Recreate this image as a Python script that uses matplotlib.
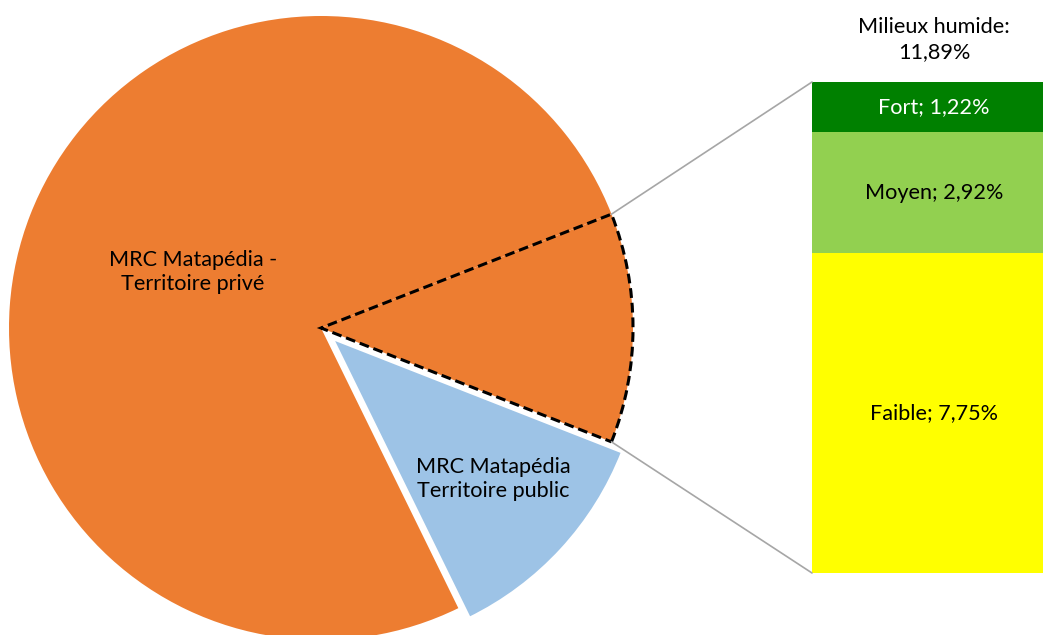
import matplotlib
matplotlib.use("Agg")
import matplotlib.pyplot as plt
from matplotlib.patches import ConnectionPatch
import numpy as np

plt.rcParams['font.family'] = ['Lato', 'DejaVu Sans']

# Pie slices (percent of territory), in clockwise order
pie_labels = ["Milieux humide", "MRC Matapédia\nTerritoire public", "MRC Matapédia -\nTerritoire privé"]
pie_values = [11.89, 11.80, 76.31]

# Breakdown of wetlands (bottom to top in the stacked bar)
bar_labels = ["Faible", "Moyen", "Fort"]
bar_values = [7.75, 2.92, 1.22]
bar_colors = ["#FFFF00", "#92D050", "#008000"]
bar_text_colors = ["black", "black", "white"]

W, H = 1043, 635
fig = plt.figure(figsize=(W / 100, H / 100), dpi=100)
ax = fig.add_axes([0, 0, 1, 1])

center = (321, H - 328)
radius = 312
start = pie_values[0] / 100 * 360 / 2
wedges, _ = ax.pie(pie_values, center=center, radius=radius, startangle=start,
                   counterclock=False, explode=[0, 15, 0],
                   colors=["#ED7D31", "#9DC3E6", "#ED7D31"])

# private slice
wedges[2].set_edgecolor("none")
wedges[2].set_zorder(1)
# public slice: white outline
wedges[1].set_edgecolor("white")
wedges[1].set_linewidth(2.2)
wedges[1].set_zorder(2)
# grouped wetlands slice: dashed outline
wedges[0].set_edgecolor("black")
wedges[0].set_linewidth(2.2)
wedges[0].set_linestyle((0, (3.2, 1.6)))
wedges[0].set_zorder(3)

ax.set_xlim(0, W)
ax.set_ylim(0, H)
ax.set_aspect("equal")
ax.axis("off")

fs = 15.6
ax.text(193, H - 272, pie_labels[2], ha="center", va="center", fontsize=fs,
        linespacing=1.3, zorder=5)
ax.text(493, H - 479, pie_labels[1], ha="center", va="center", fontsize=fs,
        linespacing=1.3, zorder=5)

# Stacked bar of the wetland breakdown
bx0, bx1, by_top, by_bot = 812, 1056, 82, 573
ax2 = fig.add_axes([bx0 / W, (H - by_bot) / H, (bx1 - bx0) / W, (by_bot - by_top) / H])
total = sum(bar_values)
bottom = 0.0
for lab, val, col, tc in zip(bar_labels, bar_values, bar_colors, bar_text_colors):
    ax2.bar(0, val, bottom=bottom, width=1.0, color=col, edgecolor="none")
    ax2.text(0, bottom + val / 2, f"{lab}; {val:.2f}%".replace(".", ","),
             ha="center", va="center", color=tc, fontsize=fs)
    bottom += val
ax2.set_xlim(-0.5, 0.5)
ax2.set_ylim(0, total)
ax2.axis("off")

ax2.text(0, total + 1.02, f"{pie_labels[0]}:\n{pie_values[0]:.2f}%".replace(".", ","),
         ha="center", va="center", fontsize=fs, linespacing=1.3, clip_on=False)

# Connector lines from the wetland slice to the bar
w = wedges[0]
cx, cy = w.center
for ang, ybar in [(w.theta2, total), (w.theta1, 0)]:
    p = (cx + w.r * np.cos(np.radians(ang)), cy + w.r * np.sin(np.radians(ang)))
    con = ConnectionPatch(xyA=p, coordsA=ax.transData, xyB=(-0.5, ybar),
                          coordsB=ax2.transData, color="#A6A6A6", linewidth=1.2)
    fig.add_artist(con)

fig.savefig("out.png", dpi=100)
